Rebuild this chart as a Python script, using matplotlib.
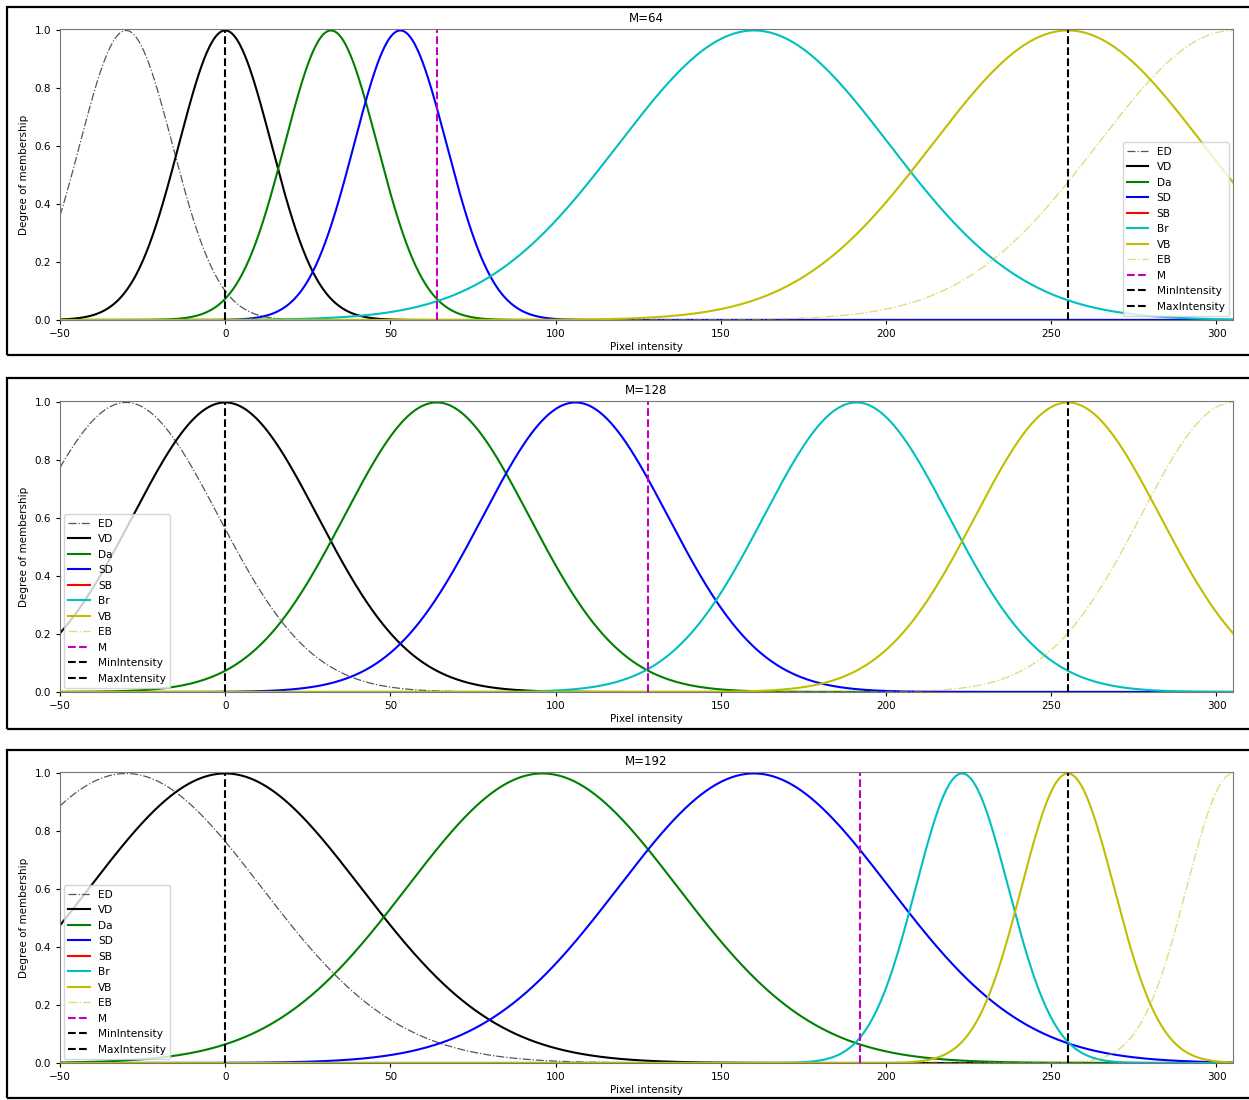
import matplotlib
matplotlib.use("Agg")
import matplotlib.pyplot as plt
from matplotlib.patches import Rectangle
import numpy as np

# membership function names and the M value of each panel
labels = ["ED", "VD", "Da", "SD", "SB", "Br", "VB", "EB"]
m_values = [64, 128, 192]
min_intensity = 0
max_intensity = 255

# gaussian centres / widths (SB stays flat at zero)
centers = {
    64: [-30, 0, 32, 53, None, 160, 255, 305],
    128: [-30, 0, 64, 106, None, 191, 255, 305],
    192: [-30, 0, 96, 160, None, 223, 255, 305],
}
widths = {
    64: [14, 14, 14, 14, None, 41, 41, 41],
    128: [28, 28, 28, 28, None, 28, 28, 28],
    192: [41, 41, 41, 41, None, 14, 14, 14],
}
legend_loc = {64: "lower right", 128: "lower left", 192: "lower left"}

x_start, x_end = -50, 305
x = np.linspace(x_start, x_end, 1421)

styles = {
    "ED": dict(color="#555555", ls="-.", lw=0.9),
    "VD": dict(color="k", ls="-", lw=1.5),
    "Da": dict(color="g", ls="-", lw=1.5),
    "SD": dict(color="b", ls="-", lw=1.5),
    "SB": dict(color="r", ls="-", lw=1.5),
    "Br": dict(color="c", ls="-", lw=1.5),
    "VB": dict(color="y", ls="-", lw=1.5),
    "EB": dict(color="y", ls="-.", lw=1.0, alpha=0.5),
}

fig = plt.figure(figsize=(12.49, 11), dpi=100)

# screenshot frames around each panel (pixel rows top, bottom)
frames = [(7, 355), (378, 729), (750, 1098)]
for top, bottom in frames:
    fig.patches.append(Rectangle((7 / 1249, (1100 - bottom) / 1100), 1.0, (bottom - top) / 1100,
                                 transform=fig.transFigure, fill=False, ec="k", lw=1.6))

# axes rows (top, bottom) in pixels
axes_rows = [(29, 320), (401, 692), (772, 1063)]
left, right = 60 / 1249, 1233 / 1249

for m, (top, bottom) in zip(m_values, axes_rows):
    ax = fig.add_axes([left, (1100 - bottom) / 1100, right - left, (bottom - top) / 1100])
    # SB drawn first so the other curves sit on top of it
    order = [4, 0, 1, 2, 3, 5, 6, 7]
    handles = {}
    for i in order:
        name = labels[i]
        c = centers[m][i]
        s = widths[m][i]
        if c is None:
            y = np.zeros_like(x)
        else:
            y = np.exp(-((x - c) ** 2) / (2.0 * s ** 2))
        handles[name], = ax.plot(x, y, label=name, **styles[name])
    h_m, = ax.plot([m, m], [0, 1], "m--", lw=1.5, label="M")
    h_min, = ax.plot([min_intensity, min_intensity], [0, 1], "k--", lw=1.5, label="MinIntensity")
    h_max, = ax.plot([max_intensity, max_intensity], [0, 1], "k--", lw=1.5, label="MaxIntensity")

    hs = [handles[n] for n in labels] + [h_m, h_min, h_max]
    ax.legend(handles=hs, loc=legend_loc[m], fontsize=7.6, labelspacing=0.52,
              borderaxespad=0.4, framealpha=0.8)

    ax.set_xlim(x_start, x_end)
    ax.set_ylim(0, 1.005)
    ax.set_xticks([-50, 0, 50, 100, 150, 200, 250, 300])
    ax.set_yticks([0.0, 0.2, 0.4, 0.6, 0.8, 1.0])
    ax.tick_params(labelsize=7.5, length=3)
    for sp in ax.spines.values():
        sp.set_color("#777777")
    ax.set_title("M={}".format(m), fontsize=8.5, pad=5)
    ax.set_xlabel("Pixel intensity", fontsize=7.5, labelpad=2)
    ax.set_ylabel("Degree of membership", fontsize=7.5)

plt.savefig("out.png", dpi=100)
